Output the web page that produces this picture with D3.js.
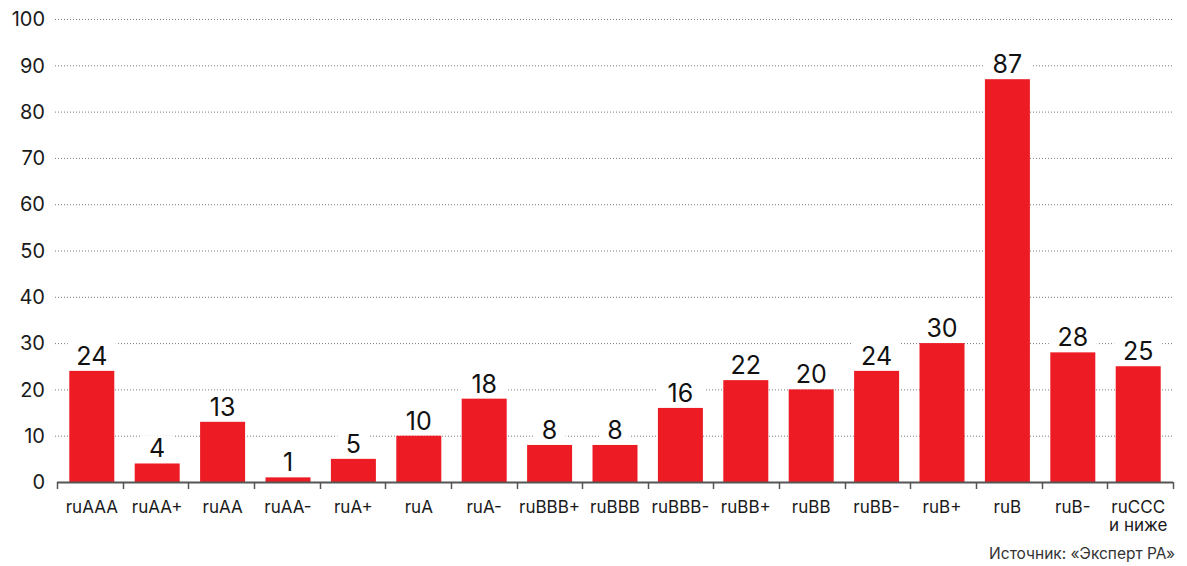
<!DOCTYPE html>
<html>
<head>
<meta charset="utf-8">
<script src="https://cdn.jsdelivr.net/npm/d3@7"></script>
<style>
  body { margin: 0; background: #fff; }
  text { font-family: Inter, "Noto Sans", sans-serif; }
</style>
</head>
<body>
<div id="chart"></div>
<script>
// rating categories and number of issuers
var categories = ['ruAAA', 'ruAA+', 'ruAA', 'ruAA-', 'ruA+', 'ruA', 'ruA-', 'ruBBB+', 'ruBBB',
    'ruBBB-', 'ruBB+', 'ruBB', 'ruBB-', 'ruB+', 'ruB', 'ruB-', 'ruCCC\nи ниже'];
var values = [24, 4, 13, 1, 5, 10, 18, 8, 8, 16, 22, 20, 24, 30, 87, 28, 25];
var yTicks = [0, 10, 20, 30, 40, 50, 60, 70, 80, 90, 100];
var source = 'Источник: «Эксперт РА»';

var svgWidth = 1187;
var svgHeight = 566;
var margin = {top: 19, right: 14, bottom: 84, left: 57};
var width = svgWidth - margin.left - margin.right;
var height = svgHeight - margin.top - margin.bottom;

var svg = d3.select('#chart').append('svg')
    .attr('width', svgWidth)
    .attr('height', svgHeight);

var g = svg.append('g')
    .attr('transform', `translate(${margin.left}, ${margin.top})`);

var x = d3.scaleBand()
    .domain(categories)
    .range([0, width])
    .paddingInner(0.312)
    .paddingOuter(0.188);

// scale for the tick marks between categories
var xTick = d3.scaleBand()
    .domain(categories)
    .range([0, width]);

var y = d3.scaleLinear()
    .domain([0, 100])
    .range([height, 0]);

// dotted gridlines
g.append('g')
    .selectAll('line')
    .data(yTicks.filter(d => d > 0))
    .enter()
    .append('line')
    .attr('x1', -2)
    .attr('x2', width)
    .attr('y1', d => y(d) + 0.5)
    .attr('y2', d => y(d) + 0.5)
    .attr('stroke', '#7a7a7a')
    .attr('stroke-width', 1)
    .attr('stroke-dasharray', '1,2');

// y tick labels
g.append('g')
    .selectAll('text')
    .data(yTicks)
    .enter()
    .append('text')
    .attr('x', -12)
    .attr('y', d => y(d))
    .attr('dy', '0.36em')
    .attr('text-anchor', 'end')
    .attr('font-size', '20px')
    .attr('fill', '#1a1a1a')
    .text(d => d);

// bars
g.append('g')
    .selectAll('rect')
    .data(values)
    .enter()
    .append('rect')
    .attr('x', (d, i) => x(categories[i]))
    .attr('y', d => y(d))
    .attr('width', x.bandwidth())
    .attr('height', d => height - y(d))
    .attr('fill', '#ed1c24');

// value labels with white background to cut the gridlines
var labels = g.append('g')
    .selectAll('g')
    .data(values)
    .enter()
    .append('g')
    .attr('transform', (d, i) => `translate(${x(categories[i]) + x.bandwidth() / 2}, ${y(d) - 6})`);

labels.append('rect')
    .attr('x', d => -(String(d).length * 8 + 8))
    .attr('y', -22)
    .attr('width', d => String(d).length * 16 + 16)
    .attr('height', 24)
    .attr('fill', '#fff');

labels.append('text')
    .attr('text-anchor', 'middle')
    .attr('font-size', '25px')
    .attr('fill', '#111')
    .text(d => d);

// x axis with ticks between bands
var axis = g.append('g')
    .attr('transform', `translate(0, ${height})`);

axis.append('line')
    .attr('x1', 0)
    .attr('x2', width)
    .attr('y1', 0.5)
    .attr('y2', 0.5)
    .attr('stroke', '#555')
    .attr('stroke-width', 2);

var tickPos = categories.map(c => xTick(c)).concat([width]);

axis.selectAll('.tick')
    .data(tickPos)
    .enter()
    .append('line')
    .attr('x1', d => Math.round(d) + 0.5)
    .attr('x2', d => Math.round(d) + 0.5)
    .attr('y1', 0)
    .attr('y2', 7)
    .attr('stroke', '#555')
    .attr('stroke-width', 1.5);

// category labels, split on line breaks
categories.forEach(function(c) {
    c.split('\n').forEach(function(l, k) {
        axis.append('text')
            .attr('x', x(c) + x.bandwidth() / 2)
            .attr('y', 31 + k * 18)
            .attr('text-anchor', 'middle')
            .attr('font-size', '17px')
            .attr('fill', '#1a1a1a')
            .text(l);
    });
});

svg.append('text')
    .attr('x', svgWidth - 12)
    .attr('y', 559)
    .attr('text-anchor', 'end')
    .attr('font-size', '15.5px')
    .attr('fill', '#333')
    .text(source);
</script>
</body>
</html>
